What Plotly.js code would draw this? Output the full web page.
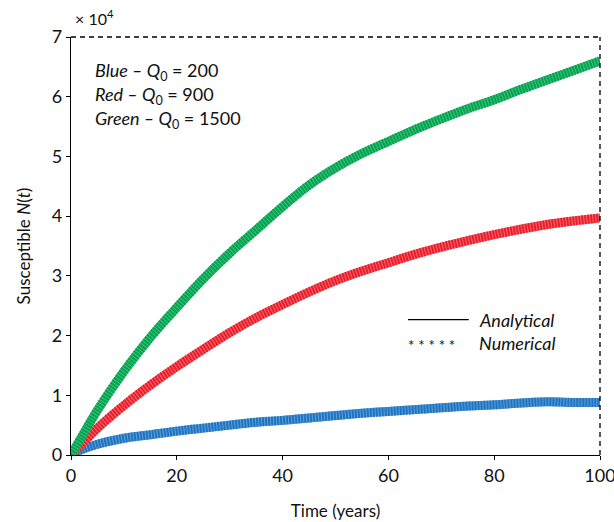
<!DOCTYPE html>
<html>
<head>
<meta charset="utf-8">
<script src="https://cdn.plot.ly/plotly-3.0.1.min.js"></script>
<style>html,body{margin:0;padding:0;background:#fff;}#chart{width:614px;height:522px;}</style>
</head>
<body>
<div id="chart"></div>
<script>
// Time in years
const years = [0,2,5,10,15,20,25,30,35,40,45,50,55,60,65,70,75,80,85,90,95,100];
// Susceptible N(t), in units of 10^4
const greenQ1500 = [0,0.30,0.75,1.40,1.97,2.47,2.95,3.38,3.77,4.16,4.52,4.81,5.05,5.25,5.45,5.63,5.80,5.95,6.12,6.28,6.44,6.60];
const redQ900   = [0,0.18,0.45,0.83,1.17,1.48,1.77,2.05,2.30,2.52,2.73,2.92,3.08,3.22,3.36,3.48,3.59,3.69,3.78,3.86,3.92,3.97];
const blueQ200  = [0,0.09,0.18,0.28,0.34,0.40,0.45,0.50,0.55,0.58,0.62,0.66,0.70,0.73,0.76,0.79,0.82,0.84,0.87,0.89,0.88,0.88];
const yTicks = [0,1,2,3,4,5,6,7];
const xTicks = [0,20,40,60,80,100];

const series = [
  {y: blueQ200, light: '#5d9fd8', dark: '#1f74c2'},
  {y: redQ900, light: '#f46a70', dark: '#ec1c2a'},
  {y: greenQ1500, light: '#45bd7c', dark: '#00a550'}
];
const traces = [];
series.forEach(s => {
  traces.push({x: years, y: s.y, mode: 'lines', line: {color: s.light, width: 9, shape: 'spline'}, hoverinfo: 'skip', showlegend: false, cliponaxis: false});
  traces.push({x: years, y: s.y, mode: 'lines', line: {color: s.dark, width: 9, shape: 'spline', dash: '2px,1px'}, showlegend: false, cliponaxis: false});
});

const F = 'Lato, "Open Sans", sans-serif';
const layout = {
  width: 614, height: 522,
  margin: {l: 70.5, r: 13.5, t: 37, b: 67},
  paper_bgcolor: '#fff', plot_bgcolor: '#fff',
  font: {family: F, size: 17, color: '#111'},
  showlegend: false,
  xaxis: {
    range: [0, 100], tickvals: xTicks, showgrid: false, zeroline: false,
    showline: true, linecolor: '#000', linewidth: 1.3,
    ticks: 'outside', ticklen: 4, tickcolor: '#000',
    ticklabeloverflow: 'allow',
    tickfont: {family: F, size: 18},
    title: {text: 'Time (years)', font: {family: F, size: 17}, standoff: 20}
  },
  yaxis: {
    range: [0, 7], tickvals: yTicks, showgrid: false, zeroline: false,
    showline: true, linecolor: '#000', linewidth: 1.3,
    ticks: 'outside', ticklen: 4, tickcolor: '#000',
    tickfont: {family: F, size: 18},
    title: {text: 'Susceptible <i>N</i>(<i>t</i>)', font: {family: F, size: 17}, standoff: 16}
  },
  shapes: [
    {type: 'line', xref: 'paper', yref: 'paper', x0: 0, x1: 1, y0: 1, y1: 1, line: {color: '#000', width: 1.3, dash: '5px,4px'}},
    {type: 'line', xref: 'paper', yref: 'paper', x0: 1, x1: 1, y0: 0, y1: 1, line: {color: '#000', width: 1.3, dash: '5px,4px'}},
    {type: 'line', xref: 'paper', yref: 'paper', x0: 0.637, x1: 0.752, y0: 0.324, y1: 0.324, line: {color: '#000', width: 1.3}}
  ],
  annotations: [
    {xref: 'paper', yref: 'paper', x: 0.003, y: 1.046, xanchor: 'left', yanchor: 'middle', showarrow: false,
     text: '× 10<sup>4</sup>', font: {family: F, size: 16}},
    {xref: 'paper', yref: 'paper', x: 0.042, y: 0.917, xanchor: 'left', yanchor: 'middle', showarrow: false,
     text: '<i>Blue – Q</i><sub>0</sub> = 200', font: {family: F, size: 18}},
    {xref: 'paper', yref: 'paper', x: 0.042, y: 0.860, xanchor: 'left', yanchor: 'middle', showarrow: false,
     text: '<i>Red – Q</i><sub>0</sub> = 900', font: {family: F, size: 18}},
    {xref: 'paper', yref: 'paper', x: 0.042, y: 0.803, xanchor: 'left', yanchor: 'middle', showarrow: false,
     text: '<i>Green – Q</i><sub>0</sub> = 1500', font: {family: F, size: 18}},
    {xref: 'paper', yref: 'paper', x: 0.767, y: 0.324, xanchor: 'left', yanchor: 'middle', showarrow: false,
     text: '<i>Analytical</i>', font: {family: F, size: 18}},
    {xref: 'paper', yref: 'paper', x: 0.634, y: 0.262, xanchor: 'left', yanchor: 'middle', showarrow: false,
     text: '* * * * *', font: {family: F, size: 15}},
    {xref: 'paper', yref: 'paper', x: 0.767, y: 0.269, xanchor: 'left', yanchor: 'middle', showarrow: false,
     text: '<i>Numerical</i>', font: {family: F, size: 18}}
  ]
};
Plotly.newPlot('chart', traces, layout, {displayModeBar: false, staticPlot: true});
</script>
</body>
</html>
